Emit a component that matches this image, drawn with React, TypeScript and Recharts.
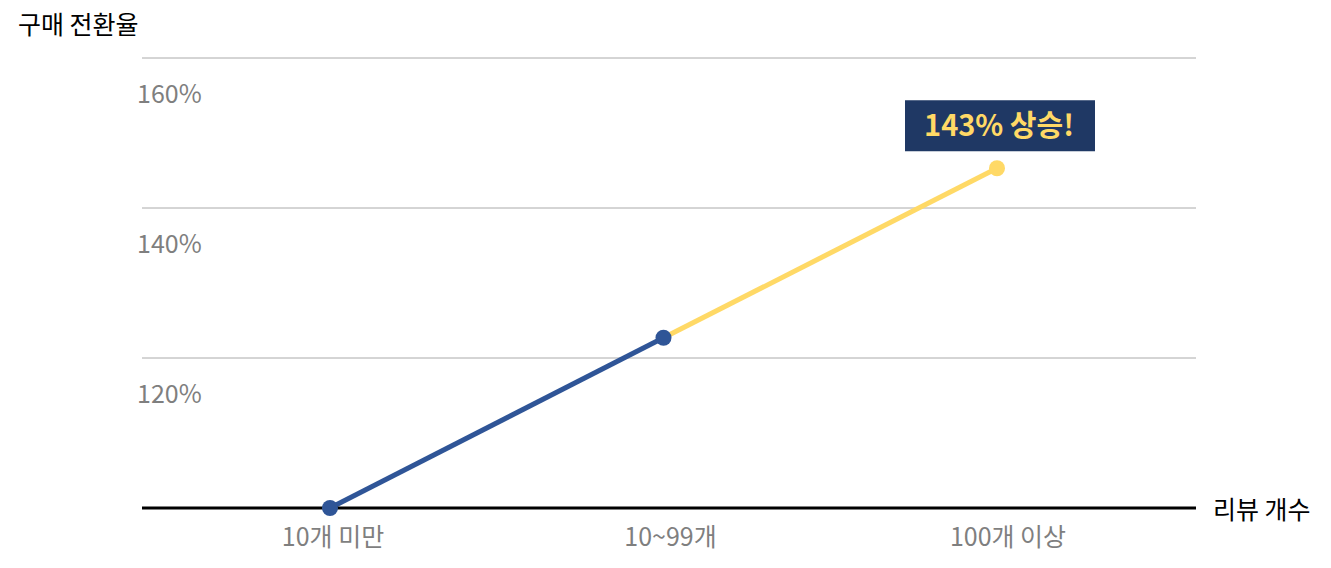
import { LineChart, Line, XAxis, YAxis, CartesianGrid, LabelList } from 'recharts';

const categories = ['10개 미만', '10~99개', '100개 이상'];
const conversion = [100, 122.7, 145.3];
const yTicks = [100, 120, 140, 160];
const calloutText = '143% 상승!';

const BLUE = '#2f5597';
const YELLOW = '#ffd966';
const NAVY = '#1f3864';
const FONT = '"Noto Sans CJK KR", "Noto Sans", sans-serif';

// split the line in two pieces so each segment can carry its own colour
const data = categories.map((name, i) => ({
  name,
  blue: i <= 1 ? conversion[i] : null,
  yellow: i >= 1 ? conversion[i] : null,
}));

const YTick = (props: any) => {
  const { y, payload } = props;
  if (payload.value === 100) return null;
  return (
    <text x={137} y={y + 36} dy="0.35em" fill="#7f7f7f" fontSize={25} fontFamily={FONT} textAnchor="start">
      {payload.value}%
    </text>
  );
};

const XTick = (props: any) => {
  const { x, payload, index } = props;
  // labels drift slightly right of their points in the original
  return (
    <text x={x + 3 + index * 4} y={537} dy="0.35em" fill="#7f7f7f" fontSize={25} fontFamily={FONT} textAnchor="middle">
      {payload.value}
    </text>
  );
};

const YellowDot = (props: any) => {
  const { cx, cy, index } = props;
  if (index !== 2) return <g key={index} />;
  return <circle key={index} cx={cx} cy={cy} r={8} fill={YELLOW} />;
};

const Callout = (props: any) => {
  const { x, y, index } = props;
  if (index !== 2) return null;
  return (
    <g>
      <rect x={x - 92} y={y - 68} width={190} height={51} fill={NAVY} />
      <text x={x + 2} y={y - 42} dy="0.35em" textAnchor="middle" fill={YELLOW} fontSize={29} fontWeight="bold" fontFamily={FONT}>
        {calloutText}
      </text>
    </g>
  );
};

export default function App() {
  return (
    <div style={{ position: 'absolute', left: 0, top: 0, width: 1331, height: 568, background: '#fff', fontFamily: FONT }}>
      <div style={{ position: 'absolute', left: 18, top: 11, fontSize: 25, lineHeight: 1, color: '#000' }}>구매 전환율</div>
      <div style={{ position: 'absolute', left: 1213, top: 496, fontSize: 25, lineHeight: 1, color: '#000' }}>리뷰 개수</div>
      <LineChart width={1331} height={568} data={data} margin={{ top: 58, right: 135, bottom: 0, left: 0 }}>
        <CartesianGrid horizontal vertical={false} stroke="#aaaaaa" strokeWidth={1} />
        <XAxis
          dataKey="name"
          padding={{ left: 188, right: 199 }}
          axisLine={{ stroke: '#000', strokeWidth: 3 }}
          tickLine={false}
          tick={<XTick />}
          height={60}
        />
        <YAxis
          width={142}
          domain={[100, 160]}
          ticks={yTicks}
          axisLine={false}
          tickLine={false}
          tick={<YTick />}
        />
        <Line
          dataKey="yellow"
          stroke={YELLOW}
          strokeWidth={5}
          dot={<YellowDot />}
          activeDot={false}
          isAnimationActive={false}
        >
          <LabelList dataKey="yellow" content={<Callout />} />
        </Line>
        <Line
          dataKey="blue"
          stroke={BLUE}
          strokeWidth={5}
          dot={{ r: 8, fill: BLUE, stroke: BLUE, strokeWidth: 0 }}
          activeDot={false}
          isAnimationActive={false}
        />
      </LineChart>
    </div>
  );
}
